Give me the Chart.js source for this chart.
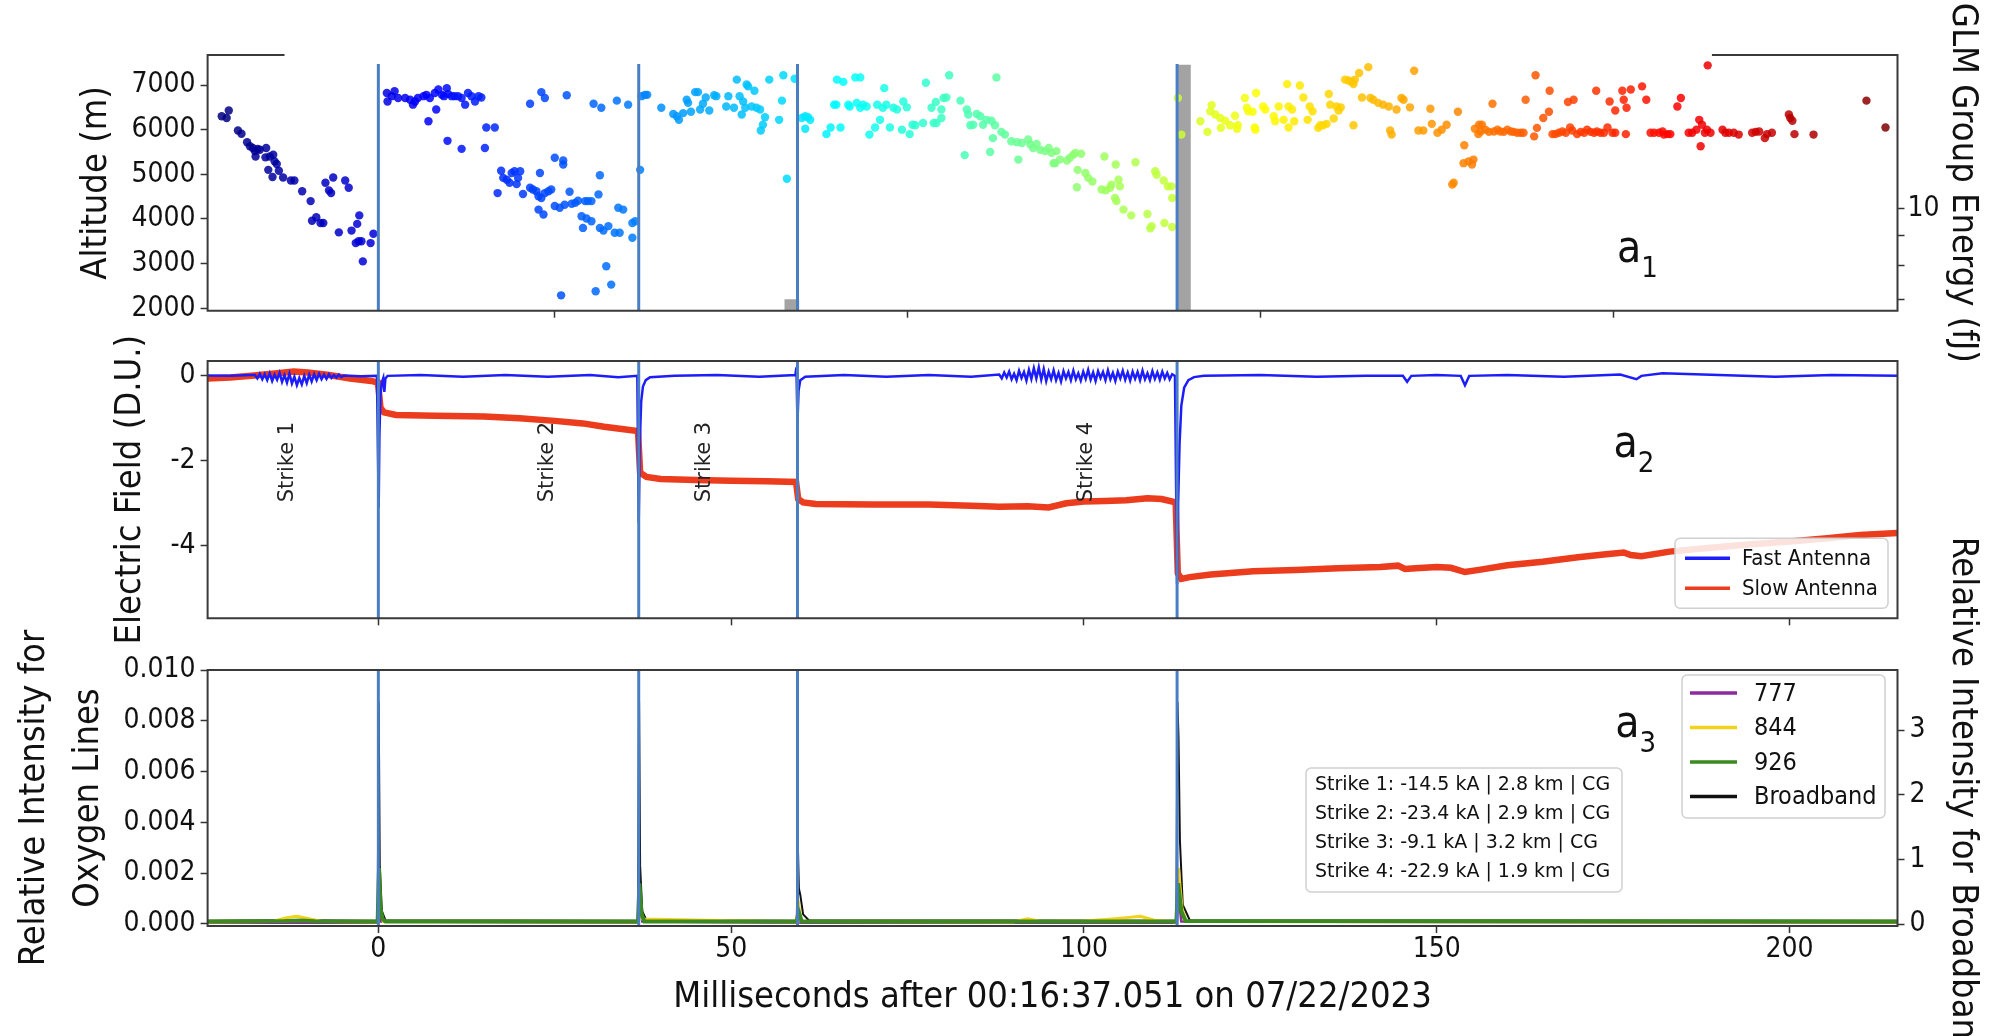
<!DOCTYPE html>
<html lang="en">
<head>
<meta charset="UTF-8">
<title>GLM altitude, electric field and optical intensity for four strikes</title>
<script src="https://cdn.jsdelivr.net/npm/chart.js"></script>
<style>
  body { margin: 0; background: #fff; }
  #wrap { position: relative; width: 2013px; height: 1036px; overflow: hidden; }
  canvas { position: absolute; left: 0; }
</style>
</head>
<body>
<div id="wrap">
  <canvas id="topChart" width="2013" height="360" style="top:0px"></canvas>
  <canvas id="midChart" width="2013" height="320" style="top:330px"></canvas>
  <canvas id="botChart" width="2013" height="496" style="top:540px"></canvas>
</div>
<script>
// ---- shared axis values ----
const xTicks = [0, 50, 100, 150, 200];
const strikeTimes = [0, 36.9, 59.4, 113.2];
const strikeNames = ['Strike 1', 'Strike 2', 'Strike 3', 'Strike 4'];
const strikeLabelTimes = [-12.8, 24.0, 46.3, 100.4];
const strikeLabelField = -2.03;

// ---- a1: GLM events (time in ms, altitude in m) ----
const glmTime = [
  -22.2,-21.5,-21.2,-19.9,-19.4,-18.6,-18.2,-17.8,-17.5,-17.1,-16.8,-17.4,-15.9,-16.0,-15.4,-14.9,-14.7,-14.4,-15.6,-15.0,
  -14.1,-13.5,-12.4,-11.9,-10.8,-9.6,-9.4,-8.8,-8.2,-7.8,-7.5,-7.0,-6.4,-6.7,-4.7,-4.2,-5.6,-3.8,-3.0,-2.7,
  -3.2,-2.8,-2.4,-2.2,-1.1,-0.7,
  1.2,1.3,1.9,2.3,2.8,3.8,4.5,4.9,5.2,5.6,6.4,6.8,7.3,8.0,8.5,9.0,9.3,9.7,9.9,10.4,
  10.8,11.3,11.8,12.3,12.7,13.2,13.7,14.2,14.6,7.1,8.2,9.8,11.8,15.1,15.3,16.5,
  17.4,17.7,18.2,18.6,18.9,19.3,19.8,20.1,19.6,16.9,20.5,21.5,21.9,22.4,22.9,22.7,23.1,23.6,24.1,24.5,
  22.7,23.4,25.0,26.2,26.2,25.0,25.7,26.4,27.1,27.4,27.9,28.3,29.3,29.7,30.2,31.2,31.4,28.8,29.0,29.5,
  30.2,31.4,31.9,32.6,33.5,34.2,34.0,34.7,32.3,33.0,30.8,25.9,21.5,23.1,23.6,26.7,30.5,31.6,33.8,35.4,
  36.0,36.4,36.0,37.1,
  37.3,37.8,38.1,40.1,41.8,42.3,42.6,43.2,43.7,43.9,44.3,44.9,45.3,45.6,46.0,46.4,46.9,47.6,47.9,49.3,
  49.6,50.4,50.8,51.2,51.5,51.7,52.0,52.2,52.4,52.9,53.3,53.6,54.1,54.2,54.5,54.8,55.4,56.8,57.2,57.4,
  57.9,59.0,
  60.0,60.5,60.9,61.2,60.5,63.5,64.1,64.6,64.9,65.0,65.5,65.9,66.6,66.8,67.6,68.3,67.8,68.3,68.7,69.2,
  69.6,70.4,70.7,71.1,71.5,71.7,72.0,72.5,73.0,73.5,74.2,74.4,74.9,75.3,75.7,76.1,77.2,77.6,78.4,78.7,
  79.0,79.1,79.8,79.8,80.1,80.5,80.9,82.5,83.1,83.4,83.6,83.9,84.3,84.8,85.3,85.7,86.2,86.7,86.9,87.1,
  87.4,87.6,88.3,88.8,89.7,90.5,90.7,91.2,92.1,92.4,92.8,93.3,93.8,94.5,95.0,95.4,95.7,
  95.9,96.1,96.6,97.6,98.0,98.5,98.8,99.6,99.1,99.0,100.2,100.6,101.2,102.9,102.5,103.1,103.7,103.9,104.5,104.9,
  105.1,104.4,104.6,105.6,106.7,107.3,109.0,110.1,110.3,111.3,111.9,112.4,112.5,109.6,109.4,111.4,112.5,113.3,113.8,
  116.5,117.5,117.9,118.1,118.6,119.3,119.4,120.0,120.7,121.4,121.7,121.8,122.8,123.1,123.3,123.9,124.2,124.4,124.3,125.4,
  125.7,126.9,127.1,127.6,128.3,128.8,129.0,129.0,129.5,129.8,130.6,131.1,131.7,132.0,132.4,133.2,133.5,133.9,134.4,134.7,
  134.9,135.4,135.8,136.1,136.4,137.0,137.5,137.9,138.2,138.4,139.0,138.2,139.4,140.3,140.6,141.0,141.7,142.4,143.2,143.4,
  143.6,144.3,145.0,145.3,146.2,146.8,147.4,148.1,149.1,149.3,150.1,150.7,151.4,152.2,152.4,153.0,153.9,153.8,154.5,155.0,
  155.2,155.4,155.9,156.0,
  156.2,156.4,156.9,157.4,157.9,158.1,158.6,159.0,159.5,160.0,160.5,160.9,161.4,161.9,162.3,162.6,163.8,164.0,164.2,165.1,
  165.9,166.0,166.4,166.8,167.3,167.8,168.3,168.6,168.9,169.2,169.4,169.9,170.4,170.9,171.3,171.8,172.3,172.6,172.7,173.2,
  173.7,174.2,174.5,174.9,175.3,175.3,176.3,176.5,176.9,176.8,177.5,179.1,179.7,180.3,180.8,181.5,182.0,182.2,182.7,183.1,
  184.1,184.6,185.7,186.2,186.8,187.2,187.4,187.6,188.0,188.3,188.8,188.4,190.5,190.9,191.4,192.1,192.8,194.7,195.2,195.7,
  196.5,196.8,197.5,199.9,200.1,200.4,200.7,203.4,210.9,213.6
];
const glmAlt = [
  6300,6260,6430,5980,5910,5720,5630,5590,5520,5570,5550,5400,5590,5380,5400,5440,5290,5230,5100,4940,
  5080,4930,4860,4860,4620,4400,3960,4040,3910,3910,4810,4640,4930,4580,4860,4700,3700,3740,3890,4080,
  3460,3500,3500,3050,3460,3670,
  6820,6630,6750,6860,6710,6710,6670,6560,6630,6710,6750,6780,6710,6820,6900,6780,6750,6930,6800,6750,
  6750,6750,6710,6560,6820,6750,6630,6750,6720,6190,6450,5750,5570,5590,6050,6050,
  5080,4920,4880,4810,5030,5070,4920,5070,4780,4580,4560,4700,4660,4620,5030,4510,4470,4580,4620,4660,
  4210,4100,5370,5310,5220,4290,4250,4320,4610,4340,4360,4410,4400,4400,4400,4550,4980,4060,3800,4010,
  3950,3800,3740,3840,3690,3690,4250,4210,2940,2530,2380,2290,6580,6840,6710,6770,6580,6490,6650,6560,
  3910,3950,3580,5100,
  6750,6780,6780,6490,6350,6300,6220,6370,6670,6600,6400,6840,6840,6450,6580,6720,6430,6770,6750,6520,
  6750,6490,7120,6750,6340,6630,6490,7010,6970,6520,6870,6490,6450,5980,6110,6280,7120,6220,6650,7220,
  4900,7140,
  6260,6300,6280,6220,6020,5900,6050,6560,6560,7120,6050,7070,6560,6520,7170,7170,6600,6490,6560,6520,
  5890,6050,6560,6220,6490,6930,6560,6050,6490,6450,6000,6630,6500,5900,6110,6100,6150,7050,6490,6150,
  6620,6150,6260,6450,6710,6720,7220,6650,5430,6450,6340,6100,6110,6350,6300,6110,6220,5500,6200,5810,
  6100,7170,5950,5890,5740,5720,5330,5700,5780,5670,5590,5680,5550,5520,5590,5480,5250,
  5250,5520,5330,5310,5370,5440,5480,5460,5100,4710,5030,4920,4840,5400,4660,4640,4700,4770,5220,4880,
  4730,4470,4400,4210,4080,5270,4110,5070,4990,4860,4730,4730,4470,3840,3790,3910,3820,6710,5890,
  6190,5950,6410,6550,6340,6260,6040,6200,6100,6310,6020,6100,6710,6490,6410,6400,6050,6820,6000,6520,
  6450,6300,6190,6520,6220,7020,6520,6050,6450,6190,6990,6720,6220,6520,6410,6040,6100,6100,6130,6800,
  6560,6250,6520,6430,6500,7120,7100,7070,7020,7120,7270,6100,6720,7400,6710,6670,6600,6560,6520,5980,
  5890,6450,6710,6670,6500,7320,5980,5980,6470,6130,5930,6000,6110,4770,4810,6400,5650,5250,5290,5220,
  5330,6020,5900,6110,
  5960,6110,6000,5950,6580,5960,6000,5960,5950,6000,5960,5950,5930,5930,5930,6670,5850,7220,6040,6260,
  6400,6870,5900,5900,5930,5960,5930,6620,6050,5980,6670,5900,5950,5930,6000,5950,5930,6870,5960,5930,
  5930,6050,6630,5930,6430,5930,6870,6670,6490,5900,6900,6970,6670,5930,5930,5930,5960,5890,5900,5900,
  6520,6710,5930,5930,6000,6220,5630,6110,5930,6000,5930,7440,6000,5930,5930,5930,5890,5930,5950,5960,
  5810,5900,5930,6340,6260,6200,5900,5890,6650,6050
];
const altTicks = [2000, 3000, 4000, 5000, 6000, 7000];
// GLM group energy bars (fJ)
const groupTime = [58.6, 114.1];
const groupEnergy = [7.0, 17.5];
const energyTicks = [7, 8, 9, 10];

// ---- a2: electric field (D.U.) ----
const fastTime = [
  -24.2,-21.0,-18.0,
  -17.5,-17.15,-16.8,-16.45,-16.1,-15.75,-15.4,-15.05,-14.7,-14.35,-14.0,-13.65,-13.3,-12.95,-12.6,-12.25,-11.9,-11.55,-11.2,
  -10.85,-10.5,-10.15,-9.8,-9.45,-9.1,-8.75,-8.4,-8.05,-7.7,-7.35,-7.0,-6.65,-6.3,-5.95,-5.6,-5.25,-4.9,
  -2.5,-0.2,
  0.05,0.15,0.3,0.5,0.7,0.85,1.0,1.3,6.0,12.0,18.0,24.0,30.0,34.0,36.7,
  36.9,37.05,37.25,37.5,37.9,38.5,42.0,48.0,54.0,59.1,59.25,
  59.4,59.55,59.8,60.5,66.0,72.0,78.0,84.0,
  88.0,88.35,88.7,89.05,89.4,89.75,90.1,90.45,90.8,91.15,91.5,91.85,92.2,92.55,92.9,93.25,93.6,93.95,94.3,94.65,
  95.0,95.35,95.7,96.05,96.4,96.75,97.1,97.45,97.8,98.15,98.5,98.85,99.2,99.55,99.9,100.25,100.6,100.95,101.3,101.65,
  102.0,102.35,102.7,103.05,103.4,103.75,104.1,104.45,104.8,105.15,105.5,105.85,106.2,106.55,106.9,107.25,107.6,107.95,108.3,108.65,
  109.0,109.35,109.7,110.05,110.4,110.75,111.1,111.45,111.8,112.15,112.5,
  112.9,113.2,113.35,113.55,113.8,114.2,114.8,115.6,117.0,125.0,133.0,140.0,145.2,145.8,146.4,150.0,153.4,154.0,154.6,
  160.0,168.0,176.0,178.3,179.0,182.0,190.0,198.0,206.0,215.3
];
const fastField = [
  0.01,0.0,0.02,
  0.02,-0.06,0.05,-0.08,0.04,-0.10,0.06,-0.12,0.03,-0.09,0.07,-0.14,0.02,-0.16,0.05,-0.18,-0.02,-0.22,-0.05,
  -0.20,0.0,-0.17,0.03,-0.13,0.04,-0.10,0.05,-0.08,0.03,-0.07,0.04,-0.05,0.02,-0.04,0.03,-0.03,0.01,
  -0.01,0.0,
  -3.10,-1.40,-0.45,-0.15,-0.05,-0.38,-0.06,0.0,0.02,-0.02,0.02,-0.02,0.02,-0.03,0.0,
  -3.45,-1.60,-0.60,-0.25,-0.10,-0.03,0.0,0.02,-0.02,0.02,0.20,
  -1.10,-0.35,-0.10,-0.02,0.02,-0.02,0.02,-0.02,
  0.03,-0.06,0.08,-0.04,0.10,-0.08,0.05,-0.10,0.12,-0.05,0.09,-0.11,0.14,-0.07,0.18,-0.06,0.20,-0.09,0.16,-0.12,
  0.10,-0.08,0.13,-0.10,0.07,-0.13,0.11,-0.06,0.09,-0.10,0.12,-0.08,0.06,-0.11,0.10,-0.07,0.14,-0.09,0.08,-0.12,
  0.11,-0.05,0.09,-0.10,0.13,-0.08,0.07,-0.12,0.10,-0.06,0.12,-0.09,0.08,-0.11,0.10,-0.07,0.09,-0.10,0.12,-0.08,
  0.06,-0.10,0.11,-0.07,0.08,-0.09,0.10,-0.06,0.07,-0.08,0.04,
  0.0,-4.90,-3.00,-1.60,-0.70,-0.28,-0.10,-0.03,0.0,0.02,-0.02,0.0,0.0,-0.14,0.0,0.02,0.0,-0.22,0.0,
  0.02,-0.02,0.03,-0.08,0.0,0.06,0.02,-0.02,0.02,0.0
];
const slowTime = [
  -24.2,-21.0,-18.0,-15.0,-12.0,-10.0,-7.0,-4.0,-1.0,-0.05,0.3,0.8,2.5,8.0,15.0,20.0,25.0,29.0,32.0,34.5,36.8,
  37.1,38.0,40.0,45.0,50.0,55.0,59.2,59.5,60.2,62.0,70.0,78.0,84.0,88.0,92.0,95.0,97.5,100.0,103.0,106.0,109.0,111.0,113.0,
  113.3,113.8,115.0,118.0,124.0,130.0,136.0,142.0,144.5,145.5,147.0,150.0,152.0,154.0,156.0,160.0,165.0,170.0,174.0,176.5,177.5,
  179.0,183.0,188.0,195.0,200.0,205.0,210.0,215.3
];
const slowField = [
  -0.06,-0.04,0.0,0.05,0.10,0.08,0.02,-0.06,-0.12,-0.16,-0.75,-0.86,-0.92,-0.94,-0.96,-1.00,-1.06,-1.12,-1.20,-1.25,-1.30,
  -2.28,-2.38,-2.43,-2.45,-2.47,-2.48,-2.50,-2.90,-2.98,-3.02,-3.03,-3.03,-3.06,-3.08,-3.07,-3.10,-3.00,-2.96,-2.95,-2.93,-2.88,-2.90,-2.98,
  -4.65,-4.78,-4.74,-4.68,-4.60,-4.57,-4.53,-4.50,-4.47,-4.55,-4.53,-4.50,-4.52,-4.62,-4.57,-4.46,-4.38,-4.27,-4.20,-4.16,-4.22,
  -4.25,-4.14,-4.06,-3.96,-3.90,-3.83,-3.75,-3.70
];
const fieldTicks = [-4, -2, 0];
const midLegendLabels = ['Fast Antenna', 'Slow Antenna'];

// ---- a3: relative intensities ----
const o777Time = [-24.2,-0.1,0.1,0.4,36.8,37.0,37.4,59.3,59.5,59.8,113.1,113.35,113.8,215.3];
const o777Val = [0.00005,0.00005,0.0012,0.0001,0.00005,0.0010,0.0001,0.00005,0.0004,0.00005,0.00005,0.0012,0.0001,0.00005];
const o844Time = [-24.2,-15,-13,-11.5,-10,-8,-0.1,0.1,0.3,0.7,36.8,37.0,37.4,59.3,59.55,59.9,90,92,94,100,104,106,108,110,113.1,113.4,113.9,114.5,215.3];
const o844Val = [0.00008,0.0001,0.00025,0.0003,0.00022,0.0001,0.00008,0.0018,0.0005,0.0001,0.00008,0.0012,0.0002,0.00008,0.0008,0.0001,0.00008,0.0002,0.0001,0.00012,0.0002,0.00025,0.0003,0.00015,0.00008,0.0022,0.0006,0.0001,0.00008];
const o926Time = [-24.2,-13,-11,-9,-0.1,0.1,0.3,0.6,1.0,36.8,37.0,37.3,37.7,59.3,59.55,60.0,113.1,113.35,113.8,114.4,215.3];
const o926Val = [0.0001,0.00012,0.00014,0.00011,0.0001,0.0022,0.0006,0.0002,0.0001,0.0001,0.0016,0.0004,0.0001,0.0001,0.0005,0.0001,0.0001,0.0016,0.0005,0.00012,0.0001];
const bbTime = [-24.2,-12,-0.1,0.05,0.2,0.5,1.0,36.8,36.95,37.1,37.4,38.0,59.3,59.45,59.6,59.8,60.2,61,113.1,113.25,113.4,113.6,114.0,115,215.3];
const bbVal = [0.05,0.06,0.05,3.44,0.9,0.2,0.06,0.05,3.44,0.9,0.2,0.06,0.05,1.25,0.55,0.45,0.15,0.06,0.05,3.44,2.9,1.3,0.3,0.06,0.05];
const oxTicks = [0, 0.002, 0.004, 0.006, 0.008, 0.010];
const bbTicks = [0, 1, 2, 3];
const botLegendLabels = ['777', '844', '926', 'Broadband'];
const strikeInfo = [
  'Strike 1: -14.5 kA | 2.8 km | CG',
  'Strike 2: -23.4 kA | 2.9 km | CG',
  'Strike 3: -9.1 kA | 3.2 km | CG',
  'Strike 4: -22.9 kA | 1.9 km | CG'
];

// ---- styling ----
const NARROW = "'Liberation Sans Narrow', 'DejaVu Sans Condensed', 'Liberation Sans', sans-serif";
const DEJAVU = "'DejaVu Sans', sans-serif";
const FAST_C = '#1d1dfa', SLOW_C = '#eb3c1e';
const C777 = '#8e2a9e', C844 = '#f2d21b', C926 = '#3a8a1f', CBB = '#111111';
const STRIKE_C = '#4a7ec4';
const X_MIN = -24.2, X_MAX = 215.3;
const LEFT_W = 207.6, RIGHT_W = 115.5;
const TICK_PX = 28, TITLE_PX = 36;

Chart.defaults.font.family = NARROW;
Chart.defaults.color = '#111';

const pairs = (xs, ys) => xs.map((x, i) => ({x: x, y: ys[i]}));
const clamp = v => Math.max(0, Math.min(1, v));
function jet(v) {
  const r = clamp(1.5 - Math.abs(4 * v - 3));
  const g = clamp(1.5 - Math.abs(4 * v - 2));
  const b = clamp(1.5 - Math.abs(4 * v - 1));
  return 'rgba(' + Math.round(r * 255) + ',' + Math.round(g * 255) + ',' + Math.round(b * 255) + ',0.85)';
}
const tMin = Math.min(...glmTime), tMax = Math.max(...glmTime);

function xAxis(height, showLabels, title) {
  return {
    type: 'linear', min: X_MIN, max: X_MAX, offset: false,
    afterBuildTicks: s => { s.ticks = xTicks.map(v => ({value: v})); },
    afterFit: s => { s.height = height; },
    grid: { drawOnChartArea: false, tickLength: 7, color: '#333', tickWidth: 1.5 },
    border: { display: false },
    ticks: { display: showLabels, font: { size: TICK_PX }, padding: 0, maxRotation: 0, callback: v => String(v) },
    title: title ? { display: true, text: title, font: { size: TITLE_PX }, padding: { bottom: 17 } } : { display: false }
  };
}
function yAxis(opts) {
  return Object.assign({
    afterFit: s => { s.width = opts.width; },
    grid: { drawOnChartArea: false, tickLength: 7, color: '#333', tickWidth: 1.5 },
    border: { display: false }
  }, opts.extra);
}

// decorations: strike markers, frame, tags, legends, labels
const decor = {
  id: 'decor',
  afterDatasetsDraw(chart, args, o) {
    const {ctx, chartArea: a, scales} = chart;
    const xs = scales.x;
    ctx.save();
    ctx.strokeStyle = STRIKE_C;
    ctx.lineWidth = 3;
    strikeTimes.forEach(t => {
      const px = xs.getPixelForValue(t);
      ctx.beginPath();
      ctx.moveTo(px, a.top + (o.lineInset || 0));
      ctx.lineTo(px, a.bottom);
      ctx.stroke();
    });

    ctx.strokeStyle = '#3a3a3a';
    ctx.lineWidth = 2;
    ctx.beginPath();
    if (o.topGap) {
      const g0 = xs.getPixelForValue(o.topGap[0]), g1 = xs.getPixelForValue(o.topGap[1]);
      ctx.moveTo(g0, a.top); ctx.lineTo(a.left, a.top); ctx.lineTo(a.left, a.bottom);
      ctx.lineTo(a.right, a.bottom); ctx.lineTo(a.right, a.top); ctx.lineTo(g1, a.top);
    } else {
      ctx.rect(a.left, a.top, a.width, a.height);
    }
    ctx.stroke();

    if (o.tag) {
      const tx = a.left + o.tag.fx * a.width, ty = a.top + o.tag.fy * a.height;
      ctx.fillStyle = '#111';
      ctx.textAlign = 'left';
      ctx.textBaseline = 'alphabetic';
      ctx.font = '44px ' + NARROW;
      ctx.fillText('a', tx, ty);
      const w = ctx.measureText('a').width;
      ctx.font = '29px ' + NARROW;
      ctx.fillText(o.tag.sub, tx + w, ty + 15);
    }

    if (o.strikeLabels) {
      const ys = scales.y;
      ctx.font = '21px ' + DEJAVU;
      ctx.fillStyle = '#222';
      ctx.textAlign = 'center';
      ctx.textBaseline = 'middle';
      strikeNames.forEach((s, i) => {
        ctx.save();
        ctx.translate(xs.getPixelForValue(strikeLabelTimes[i]), ys.getPixelForValue(strikeLabelField));
        ctx.rotate(-Math.PI / 2);
        ctx.fillText(s, 0, 0);
        ctx.restore();
      });
    }

    if (o.legend) {
      const L = o.legend;
      const bx = a.right - L.inset - L.w;
      const by = L.fromTop ? a.top + L.top : a.bottom - L.bottom - L.h;
      ctx.fillStyle = 'rgba(255,255,255,0.85)';
      ctx.strokeStyle = '#d0d0d0';
      ctx.lineWidth = 1.5;
      ctx.beginPath();
      ctx.roundRect(bx, by, L.w, L.h, 5);
      ctx.fill(); ctx.stroke();
      ctx.font = L.size + 'px ' + NARROW;
      ctx.textAlign = 'left';
      ctx.textBaseline = 'middle';
      L.labels.forEach((lab, i) => {
        const yy = by + L.first + i * L.step;
        ctx.strokeStyle = L.colors[i];
        ctx.lineWidth = 3.5;
        ctx.beginPath();
        ctx.moveTo(bx + L.h0, yy); ctx.lineTo(bx + L.h1, yy);
        ctx.stroke();
        ctx.fillStyle = '#111';
        ctx.fillText(lab, bx + L.tx, yy + 1);
      });
    }

    if (o.infoBox) {
      const B = o.infoBox;
      const bx = a.right - B.right, by = a.top + B.top;
      ctx.fillStyle = 'rgba(255,255,255,0.85)';
      ctx.strokeStyle = '#d0d0d0';
      ctx.lineWidth = 1.5;
      ctx.beginPath();
      ctx.roundRect(bx, by, B.w, B.h, 5);
      ctx.fill(); ctx.stroke();
      ctx.font = '19px ' + DEJAVU;
      ctx.fillStyle = '#111';
      ctx.textAlign = 'left';
      ctx.textBaseline = 'middle';
      strikeInfo.forEach((s, i) => ctx.fillText(s, bx + 9, by + 17 + i * 29));
    }
    ctx.restore();
  }
};

const base = { responsive: false, animation: false, devicePixelRatio: 1, events: [] };

// ---- a1 ----
new Chart(document.getElementById('topChart'), {
  type: 'scatter',
  data: {
    datasets: [
      {
        label: 'GLM events',
        data: pairs(glmTime, glmAlt),
        yAxisID: 'y',
        pointRadius: 4.2,
        pointBorderWidth: 0,
        backgroundColor: c => jet((c.raw.x - tMin) / (tMax - tMin)),
        order: 1
      },
      {
        type: 'bar',
        label: 'GLM group energy',
        data: pairs(groupTime, groupEnergy),
        yAxisID: 'yE',
        backgroundColor: '#a3a3a3',
        barThickness: 14,
        order: 2
      }
    ]
  },
  options: Object.assign({}, base, {
    layout: { padding: { top: 55, left: 0, right: 0, bottom: 0 } },
    plugins: {
      legend: { display: false }, tooltip: { enabled: false },
      decor: { lineInset: 9, topGap: [-13.3, 189.0], tag: { fx: 0.834, fy: 0.81, sub: '1' } }
    },
    scales: {
      x: xAxis(49.3, false, null),
      y: yAxis({ width: LEFT_W, extra: {
        position: 'left', min: 1946, max: 7672,
        afterBuildTicks: s => { s.ticks = altTicks.map(v => ({value: v})); },
        ticks: { font: { size: TICK_PX }, padding: 5, callback: v => String(v) },
        title: { display: true, text: 'Altitude (m)', font: { size: TITLE_PX }, padding: { top: 75 } }
      }}),
      yE: yAxis({ width: RIGHT_W, extra: {
        type: 'logarithmic', position: 'right', min: 6.7, max: 18.2,
        afterBuildTicks: s => { s.ticks = energyTicks.map(v => ({value: v})); },
        ticks: { font: { size: TICK_PX }, padding: 3, callback: v => (v === 10 ? '10' : '') },
        title: { display: true, text: 'GLM Group Energy (fJ)', font: { size: TITLE_PX }, padding: { top: 29 } }
      }})
    }
  }),
  plugins: [decor]
});

// ---- a2 ----
new Chart(document.getElementById('midChart'), {
  type: 'scatter',
  data: {
    datasets: [
      { label: 'Fast Antenna', data: pairs(fastTime, fastField), showLine: true, pointRadius: 0,
        borderColor: FAST_C, borderWidth: 2.5, order: 1 },
      { label: 'Slow Antenna', data: pairs(slowTime, slowField), showLine: true, pointRadius: 0,
        borderColor: SLOW_C, borderWidth: 6.5, order: 2 }
    ]
  },
  options: Object.assign({}, base, {
    layout: { padding: { top: 31, left: 0, right: RIGHT_W, bottom: 0 } },
    plugins: {
      legend: { display: false }, tooltip: { enabled: false },
      decor: {
        strikeLabels: true,
        tag: { fx: 0.832, fy: 0.372, sub: '2' },
        legend: { labels: midLegendLabels, colors: [FAST_C, SLOW_C], inset: 9.5, bottom: 10,
                  w: 213, h: 70, first: 20, step: 30, h0: 10, h1: 55, tx: 67, size: 22 }
      }
    },
    scales: {
      x: xAxis(31.7, false, null),
      y: yAxis({ width: LEFT_W, extra: {
        position: 'left', min: -5.71, max: 0.35,
        afterBuildTicks: s => { s.ticks = fieldTicks.map(v => ({value: v})); },
        ticks: { font: { size: TICK_PX }, padding: 5, callback: v => String(v) },
        title: { display: true, text: 'Electric Field (D.U.)', font: { size: TITLE_PX }, padding: { top: 109 } }
      }})
    }
  }),
  plugins: [decor]
});

// ---- a3 ----
new Chart(document.getElementById('botChart'), {
  type: 'scatter',
  data: {
    datasets: [
      { label: 'Broadband', data: pairs(bbTime, bbVal), yAxisID: 'yB', showLine: true, pointRadius: 0,
        borderColor: CBB, borderWidth: 2, order: 4 },
      { label: '777', data: pairs(o777Time, o777Val), yAxisID: 'y', showLine: true, pointRadius: 0,
        borderColor: C777, borderWidth: 2.5, order: 3 },
      { label: '844', data: pairs(o844Time, o844Val), yAxisID: 'y', showLine: true, pointRadius: 0,
        borderColor: C844, borderWidth: 3, order: 2 },
      { label: '926', data: pairs(o926Time, o926Val), yAxisID: 'y', showLine: true, pointRadius: 0,
        borderColor: C926, borderWidth: 4, order: 1 }
    ]
  },
  options: Object.assign({}, base, {
    layout: { padding: { top: 130, left: 0, right: 0, bottom: 0 } },
    plugins: {
      legend: { display: false }, tooltip: { enabled: false },
      decor: {
        tag: { fx: 0.833, fy: 0.26, sub: '3' },
        legend: { labels: botLegendLabels, colors: [C777, C844, C926, CBB], fromTop: true, inset: 12.5, top: 5,
                  w: 203, h: 143, first: 18, step: 34.5, h0: 8, h1: 55, tx: 72, size: 25 },
        infoBox: { right: 591.5, top: 98, w: 316, h: 124 }
      }
    },
    scales: {
      x: xAxis(110, true, 'Milliseconds after 00:16:37.051 on 07/22/2023'),
      y: yAxis({ width: LEFT_W, extra: {
        position: 'left', min: -0.00008, max: 0.010,
        afterBuildTicks: s => { s.ticks = oxTicks.map(v => ({value: v})); },
        ticks: { font: { size: TICK_PX }, padding: 5, callback: v => v.toFixed(3) },
        title: { display: true, text: ['Relative Intensity for', 'Oxygen Lines'],
                 font: { size: TITLE_PX, lineHeight: 1.5 }, padding: { top: 8 } }
      }}),
      yB: yAxis({ width: RIGHT_W, extra: {
        position: 'right', min: -0.03, max: 3.93,
        afterBuildTicks: s => { s.ticks = bbTicks.map(v => ({value: v})); },
        ticks: { font: { size: TICK_PX }, padding: 5, callback: v => String(v) },
        title: { display: true, text: 'Relative Intensity for Broadband', font: { size: TITLE_PX }, padding: { top: 29 } }
      }})
    }
  }),
  plugins: [decor]
});
</script>
</body>
</html>
